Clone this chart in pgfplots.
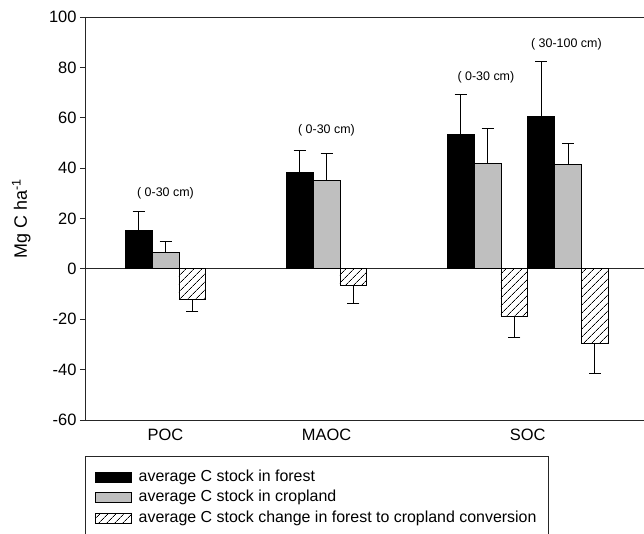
\documentclass[border=0pt]{standalone}
\usepackage{fontspec}
\setmainfont{Liberation Sans}
\usepackage{pgfplots}
\pgfplotsset{compat=1.18}
\usepackage{pgfplotstable}
\usetikzlibrary{patterns.meta}

% x: POC=0, MAOC=1, SOC (0-30)=2, SOC (30-100)=2.5
\pgfplotstableread{
x   forest forestErr crop cropErr change changeErr
0   15.1   7.8       6.6  4.2     -12.3  4.4
1   38.2   8.8       35.0 10.8    -6.6   7.3
2   53.3   16.0      41.9 13.9    -18.7  8.7
2.5 60.4   22.1      41.4 8.3     -29.4  11.9
}\datatable

\newcommand{\bigfont}{\fontsize{16.5}{19}\selectfont}
\newcommand{\legfont}{\fontsize{16}{19}\selectfont}
\newcommand{\smallfont}{\fontsize{12.5}{14}\selectfont}

\pgfplotsset{
  swatch/.style={legend image code/.code={\draw[##1,line width=0.8bp] (0bp,-5bp) rectangle (36bp,5bp);}},
  errstyle/.style={/pgfplots/error bars/.cd, y explicit, y dir=#1,
    error mark=|,
    error bar style={black, line width=0.8bp},
    error mark options={black, line width=0.8bp, mark size=6bp}},
}

\begin{document}
\begin{tikzpicture}
\begin{axis}[
  name=ax, scale only axis,
  width=559bp, height=403bp,
  xmin=-0.5, xmax=2.972, ymin=-60, ymax=100,
  axis x line*=box, axis y line*=left,
  axis line style={black!85, line width=0.8bp},
  ybar, bar width=0.1667,
  xtick={0,1,2.25}, xticklabels={POC,MAOC,SOC},
  xtick style={draw=none},
  ytick={-60,-40,...,100},
  tick align=outside, major tick length=5bp,
  ytick style={black!85, line width=0.8bp},
  tick label style={font=\bigfont},
  /pgf/number format/assume math mode=true,
  extra y ticks={0}, extra y tick labels={},
  extra y tick style={grid=major, major grid style={black!85, line width=0.8bp}, major tick length=0pt},
  ylabel={Mg C ha\textsuperscript{-1}},
  ylabel style={font=\fontsize{18}{20}\selectfont, at={(rel axis cs:-0.114,0.5)}, anchor=center},
  legend style={at={(0,-0.0893)}, anchor=north west, draw=black!85, line width=0.8bp,
    font=\legfont, inner xsep=10bp, inner ysep=12bp, row sep=2.5bp, column sep=5bp,
    nodes={inner sep=1.5bp, text height=11.5bp, text depth=3.5bp}},
  legend cell align=left,
]
\addplot[fill=black, draw=black, line width=0.8bp, bar shift=-0.1667, swatch, errstyle=plus]
  table[x=x, y=forest, y error=forestErr] {\datatable};
\addplot[fill=black!25, draw=black, line width=0.8bp, bar shift=0, swatch, errstyle=plus]
  table[x=x, y=crop, y error=cropErr] {\datatable};
\addplot[draw=black, line width=0.8bp, bar shift=0.1667, swatch,
  pattern={Lines[angle=45, distance=6bp, line width=0.7bp]}, errstyle=minus]
  table[x=x, y=change, y error=changeErr] {\datatable};
\legend{average C stock in forest, average C stock in cropland, average C stock change in forest to cropland conversion}

\node[font=\smallfont] at (axis cs:0,30.2) {( 0-30 cm)};
\node[font=\smallfont] at (axis cs:1,55.2) {( 0-30 cm)};
\node[font=\smallfont] at (axis cs:1.99,76) {( 0-30 cm)};
\node[font=\smallfont] at (axis cs:2.49,89.3) {( 30-100 cm)};
\end{axis}
\pgfresetboundingbox
\path[use as bounding box] ([xshift=-85bp,yshift=-114bp]ax.south west) rectangle ([yshift=17bp]ax.north east);
\end{tikzpicture}
\end{document}
